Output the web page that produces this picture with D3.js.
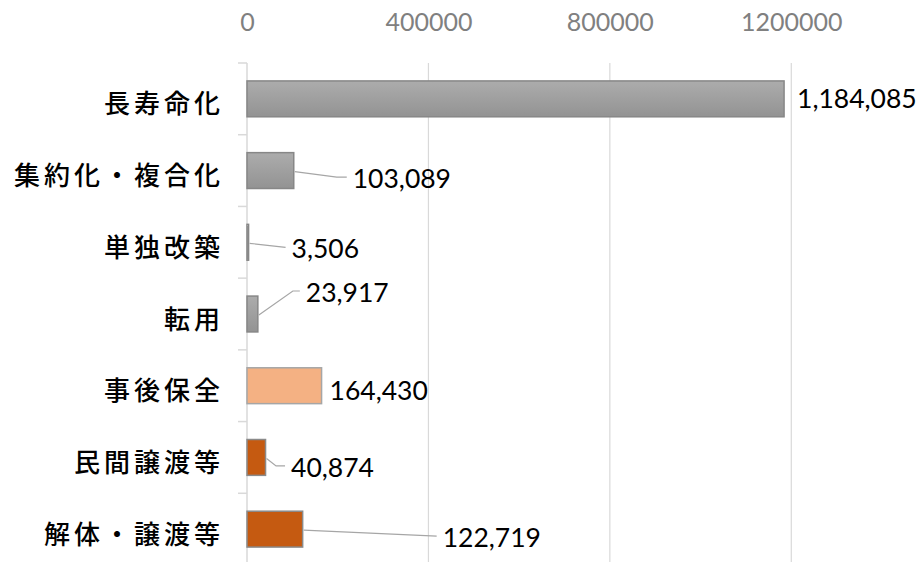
<!DOCTYPE html>
<html><head><meta charset="utf-8">
<script src="https://cdn.jsdelivr.net/npm/d3@7/dist/d3.min.js"></script>
<style>
html,body{margin:0;padding:0;background:#fff;}
svg{display:block;}
</style></head>
<body>
<svg id="chart" width="924" height="562"></svg>
<script>
// ---- data ----
const categories = ["長寿命化","集約化・複合化","単独改築","転用","事後保全","民間譲渡等","解体・譲渡等"];
const values = [1184085, 103089, 3506, 23917, 164430, 40874, 122719];
const colorKeys = ["gray","gray","gray","gray","light","dark","dark"];
const tickValues = [0, 400000, 800000, 1200000];

// ---- layout (not data) ----
const labelLayout = [
  {dx:13, dy:0,   leader:false, elbow:0},
  {dx:59, dy:7.5, leader:true,  elbow:10},
  {dx:43, dy:6,   leader:true,  elbow:0},
  {dx:48, dy:-22, leader:true,  elbow:7},
  {dx:8,  dy:5,   leader:false, elbow:0},
  {dx:25.5,dy:9.5,leader:true,  elbow:9},
  {dx:140,dy:8,   leader:true,  elbow:0}
];

const svg = d3.select("#chart");
const x = d3.scaleLinear().domain([0,1400000]).range([247, 882]);
const y = d3.scaleBand().domain(categories).range([63, 565]).paddingInner(0.5).paddingOuter(0.25);
const step = y.step();

const defs = svg.append("defs");
const g1 = defs.append("linearGradient").attr("id","grayGrad").attr("x1",0).attr("y1",0).attr("x2",0).attr("y2",1);
g1.append("stop").attr("offset","0%").attr("stop-color","#acacac");
g1.append("stop").attr("offset","100%").attr("stop-color","#939393");
const fills = {gray:"url(#grayGrad)", light:"#F4B183", dark:"#C55A11"};
const strokes = {gray:"#878787", light:"#a6a6a6", dark:"#8a8a8a"};

// gridlines
svg.append("g").selectAll("line").data(tickValues.filter(d=>d>0)).join("line")
  .attr("x1",d=>x(d)).attr("x2",d=>x(d)).attr("y1",63).attr("y2",565)
  .attr("stroke","#d9d9d9").attr("stroke-width",1.2);

// top axis
const axis = d3.axisTop(x).tickValues(tickValues).tickSize(0).tickPadding(0).tickFormat(d3.format("d"));
const ax = svg.append("g").attr("transform","translate(0,31)").call(axis);
ax.select(".domain").remove();
ax.selectAll("text").attr("font-family","Lato, 'Open Sans', sans-serif").attr("font-size",25)
  .attr("fill","#808080").attr("dy",0);

// vertical category axis line + tick marks
svg.append("line").attr("x1",x(0)).attr("x2",x(0)).attr("y1",63).attr("y2",565)
  .attr("stroke","#d9d9d9").attr("stroke-width",1.5);
const bounds = d3.range(categories.length+1).map(i=>63 + i*step);
svg.append("g").selectAll("line").data(bounds).join("line")
  .attr("x1",x(0)-9).attr("x2",x(0)).attr("y1",d=>d).attr("y2",d=>d)
  .attr("stroke","#d9d9d9").attr("stroke-width",1.5);

// category labels
svg.append("g").selectAll("text").data(categories).join("text")
  .attr("x",224).attr("y",d=>y(d)+y.bandwidth()/2+3)
  .attr("text-anchor","end").attr("dominant-baseline","central")
  .attr("font-family","'Noto Sans CJK JP', sans-serif").attr("font-size",26).attr("font-weight",500)
  .attr("letter-spacing","4px").attr("fill","#000").text(d=>d);

// bars
svg.append("g").selectAll("rect").data(categories).join("rect")
  .attr("x",x(0)).attr("y",d=>y(d))
  .attr("width",(d,i)=>x(values[i])-x(0)).attr("height",y.bandwidth())
  .attr("fill",(d,i)=>fills[colorKeys[i]]).attr("stroke",(d,i)=>strokes[colorKeys[i]]).attr("stroke-width",1.5);

// labels + leader lines
const fmt = d3.format(",");
categories.forEach((c,i)=>{
  const xe = x(values[i]);
  const cy = y(c) + y.bandwidth()/2;
  const L = labelLayout[i];
  const lx = xe + L.dx, ly = cy + L.dy;
  if (L.leader) {
    const pts = [[xe+1, cy+1], [lx-6-L.elbow, ly-1], [lx-6, ly-1]];
    svg.append("path").attr("d", d3.line()(pts)).attr("fill","none")
      .attr("stroke","#a6a6a6").attr("stroke-width",1.2);
  }
  svg.append("text").attr("x",lx).attr("y",ly + 9.6)
    .attr("font-family","Lato, 'Open Sans', sans-serif").attr("font-size",26.5)
    .attr("fill","#000").text(fmt(values[i]));
});
</script>
</body></html>
